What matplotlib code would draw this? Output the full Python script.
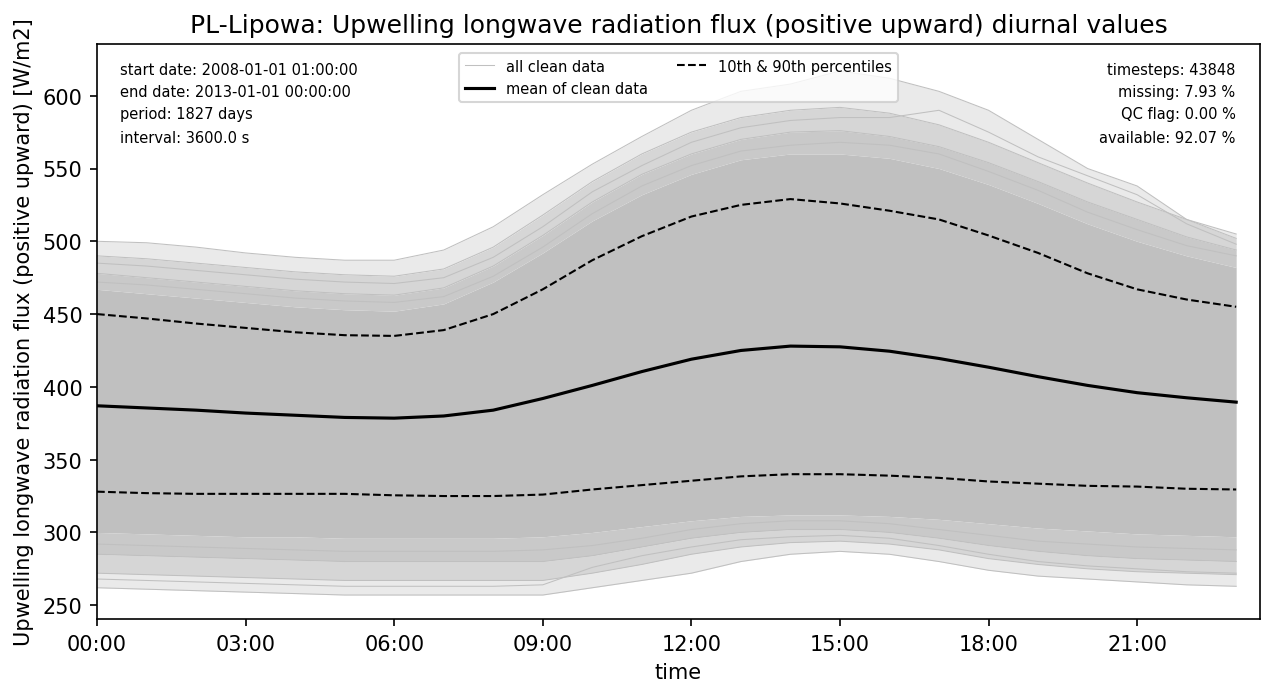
import matplotlib
matplotlib.use("Agg")
import matplotlib.pyplot as plt
from matplotlib.lines import Line2D

hours = list(range(24))
tick_hours = [0, 3, 6, 9, 12, 15, 18, 21]
tick_labels = ["00:00", "03:00", "06:00", "09:00", "12:00", "15:00", "18:00", "21:00"]

mean_vals = [387, 385.5, 384, 382, 380.5, 379, 378.5, 380, 384, 392, 401, 410.5,
             419, 425, 428, 427.5, 424.5, 419.5, 413.5, 407, 401, 396, 392.5, 389.5]
p90_vals = [450, 447, 443.5, 440.5, 437.5, 435.5, 435, 439, 450, 467, 487, 503.5,
            517, 525, 529, 526, 521, 515, 504, 492, 478, 467, 460, 455]
p10_vals = [328, 327, 326.5, 326.5, 326.5, 326.5, 325.5, 325, 325, 326, 329.5, 332.5,
            335.5, 338.5, 340, 340, 339, 337.5, 335, 333.5, 332, 331.5, 330, 329.5]

# dense core of the daily curves
band_top = [467, 464, 461, 458, 455, 453, 452, 457, 472, 492, 514, 532,
            546, 556, 560, 560, 557, 550, 539, 526, 512, 500, 490, 482]
band_bottom = [300, 299, 298, 297, 297, 296, 296, 296, 296, 297, 300, 304,
               308, 311, 312, 312, 311, 309, 306, 303, 301, 299, 298, 297]

# individual outer daily curves
up_3 = [478, 475, 472, 469, 466, 464, 463, 468, 483, 504, 527, 546, 560, 570, 575, 576, 572, 565, 554, 541, 527, 515, 503, 494]
up_2 = [490, 488, 485, 482, 479, 477, 476, 481, 496, 518, 541, 560, 575, 585, 590, 592, 588, 580, 568, 554, 540, 527, 515, 502]
up_max = [500, 499, 496, 492, 489, 487, 487, 494, 510, 532, 553, 572, 590, 603, 608, 617, 612, 603, 590, 570, 550, 538, 515, 505]
up_a = [485, 483, 480, 477, 474, 472, 471, 475, 489, 510, 534, 552, 568, 578, 583, 585, 585, 590, 575, 558, 545, 532, 512, 498]
up_b = [472, 470, 467, 464, 461, 459, 458, 462, 476, 496, 519, 538, 552, 562, 566, 568, 566, 560, 548, 535, 520, 508, 497, 490]
lo_3 = [285, 284, 283, 282, 281, 280, 280, 280, 280, 280, 284, 290, 296, 300, 302, 302, 300, 296, 291, 287, 284, 282, 281, 280]
lo_2 = [272, 271, 270, 269, 268, 267, 267, 267, 267, 267, 272, 278, 285, 290, 293, 294, 292, 288, 282, 278, 275, 273, 272, 271]
lo_min = [262, 261, 260, 259, 258, 257, 257, 257, 257, 257, 262, 267, 272, 280, 285, 287, 285, 280, 274, 270, 268, 266, 264, 263]
lo_a = [292, 291, 290, 289, 288, 287, 287, 287, 287, 288, 291, 296, 302, 306, 308, 308, 306, 302, 298, 294, 292, 290, 289, 288]
lo_b = [268, 267, 266, 265, 264, 263, 263, 263, 263, 264, 276, 284, 290, 295, 297, 298, 296, 291, 285, 280, 277, 275, 273, 272]

left_texts = ["start date: 2008-01-01 01:00:00", "end date: 2013-01-01 00:00:00",
              "period: 1827 days", "interval: 3600.0 s"]
right_texts = ["timesteps: 43848", "missing: 7.93 %", "QC flag: 0.00 %", "available: 92.07 %"]

fig = plt.figure(figsize=(8.5, 4.673), dpi=150)
ax = fig.add_axes([0.0761, 0.1155, 0.9121, 0.8203])

gray = "#c0c0c0"
ax.fill_between(hours, band_bottom, band_top, color=gray, lw=0)
ax.fill_between(hours, band_top, up_3, color="#c9c9c9", lw=0)
ax.fill_between(hours, up_3, up_2, color="#d6d6d6", lw=0)
ax.fill_between(hours, up_2, up_max, color="#eaeaea", lw=0)
ax.fill_between(hours, lo_3, band_bottom, color="#c9c9c9", lw=0)
ax.fill_between(hours, lo_2, lo_3, color="#d6d6d6", lw=0)
ax.fill_between(hours, lo_min, lo_2, color="#eaeaea", lw=0)
for c in [up_3, up_2, up_max, up_a, up_b, lo_3, lo_2, lo_min, lo_a, lo_b]:
    ax.plot(hours, c, color=gray, lw=0.5)

ax.plot(hours, mean_vals, color="black", lw=1.5)
ax.plot(hours, p90_vals, color="black", lw=1.0, ls="--")
ax.plot(hours, p10_vals, color="black", lw=1.0, ls="--")

ax.set_xlim(0, 23.48)
ax.set_ylim(240.5, 635.5)
ax.set_xticks(tick_hours)
ax.set_xticklabels(tick_labels)
ax.set_xlabel("time")
ax.set_ylabel("Upwelling longwave radiation flux (positive upward) [W/m2]")
ax.set_title("PL-Lipowa: Upwelling longwave radiation flux (positive upward) diurnal values")

ys = [0.9565, 0.918, 0.879, 0.838]
for t, y in zip(left_texts, ys):
    ax.text(0.02, y, t, transform=ax.transAxes, fontsize=7, va="center", ha="left")
for t, y in zip(right_texts, ys):
    ax.text(0.979, y, t, transform=ax.transAxes, fontsize=7, va="center", ha="right")

handles = [Line2D([], [], color=gray, lw=0.5),
           Line2D([], [], color="black", lw=1.5),
           Line2D([], [], color="black", lw=1.0, ls="--")]
labels = ["all clean data", "mean of clean data", "10th & 90th percentiles"]
ax.legend(handles, labels, loc="upper center", ncol=2, fontsize=7,
          bbox_to_anchor=(0.5, 0.99), borderaxespad=0.2)

fig.savefig("out.png", dpi=150)
